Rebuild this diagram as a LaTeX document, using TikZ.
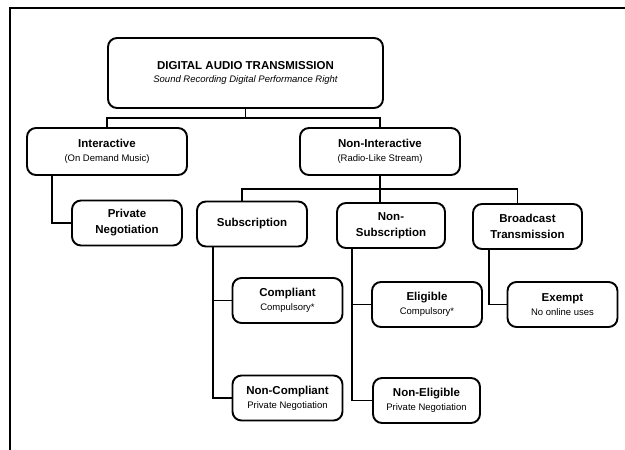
\documentclass[tikz,border=0pt]{standalone}
\usepackage{fontspec}
\setmainfont{Liberation Sans}
\usepackage{tikz}
\newcommand{\subtext}[1]{{\fontsize{9.5}{11}\selectfont\mdseries #1}}

\begin{document}
\begin{tikzpicture}[x=1pt, y=1pt, line width=1.9pt]
    \tikzset{box/.style={draw, rounded corners=9pt, align=center, inner sep=2pt,
        minimum width=110pt, minimum height=45pt, font=\fontsize{11.5}{16}\selectfont\bfseries}}
    \useasboundingbox (0,0) rectangle (625,450);
    \draw (625,442) -| (10,0);
    \node[box, minimum width=275pt, minimum height=70pt] (top) at (245.5,377)
        {DIGITAL AUDIO TRANSMISSION\\[-3pt]\subtext{\itshape Sound Recording Digital Performance Right}};
    \node[box, minimum width=160pt, minimum height=47pt] (inter) at (107,298.5)
        {Interactive\\[-2pt]\subtext{(On Demand Music)}};
    \node[box, minimum width=160pt, minimum height=47pt] (nonint) at (380,298.5)
        {Non-Interactive\\[-2pt]\subtext{(Radio-Like Stream)}};
    \node[box] (privneg) at (127,227) {Private\\Negotiation};
    \node[box] (subs) at (252,226) {Subscription};
    \node[box, minimum width=108pt] (nonsubs) at (391,224.5) {Non-\\Subscription};
    \node[box, minimum width=109pt] (broad) at (527.5,223.5) {Broadcast\\Transmission};
    \node[box] (compl) at (287.5,149.5) {Compliant\\[-2pt]\subtext{Compulsory*}};
    \node[box] (elig) at (427,145.5) {Eligible\\[-2pt]\subtext{Compulsory*}};
    \node[box] (exempt) at (562.5,145.5) {Exempt\\[-2pt]\subtext{No online uses}};
    \node[box] (noncompl) at (287.5,52) {Non-Compliant\\[-2pt]\subtext{Private Negotiation}};
    \node[box, minimum width=107pt] (nonelig) at (426.5,49.5) {Non-Eligible\\[-2pt]\subtext{Private Negotiation}};
    \draw (top.south) -- ++(0,-9) coordinate (bus1);
    \draw (inter.north) |- (bus1) -| (nonint.north);
    \draw (nonint.south) -- ++(0,-13) coordinate (bus2);
    \draw ([xshift=-10pt]subs.north) |- (bus2) -| ([xshift=-10pt]broad.north);
    \draw ([xshift=-11pt]nonsubs.north) -- (bus2);
    \coordinate (interstem) at ([xshift=26pt]inter.south west);
    \coordinate (subsstem) at ([xshift=17pt]subs.south west);
    \coordinate (nonsubsstem) at ([xshift=16pt]nonsubs.south west);
    \coordinate (broadstem) at ([xshift=17pt]broad.south west);
    \draw (interstem) |- (privneg.west);
    \draw (subsstem) |- (noncompl.west);
    \draw (subsstem |- compl.west) -- (compl.west);
    \draw (nonsubsstem) |- (nonelig.west);
    \draw (nonsubsstem |- elig.west) -- (elig.west);
    \draw (broadstem) |- (exempt.west);
\end{tikzpicture}
\end{document}
